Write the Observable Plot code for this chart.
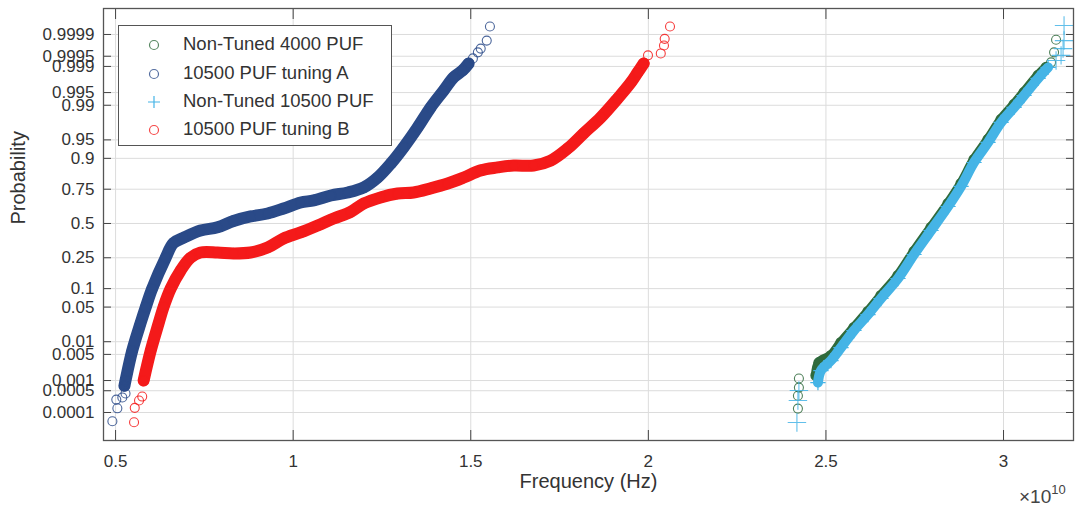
<!DOCTYPE html>
<html>
<head>
<meta charset="utf-8">
<script src="https://cdn.jsdelivr.net/npm/d3@7"></script>
<script src="https://cdn.jsdelivr.net/npm/@observablehq/plot@0.6"></script>
<style>
  html, body { margin: 0; padding: 0; background: #fff; }
  #wrap { position: relative; width: 1080px; height: 512px; font-family: "Liberation Sans", Arial, Helvetica, sans-serif; color: #333; }
  #legend { position: absolute; left: 118px; top: 25px; width: 272px; height: 119px; border: 1.3px solid #555; background: #fff; }
  .row { position: absolute; left: 0; height: 28px; line-height: 28px; font-size: 18.5px; white-space: nowrap; }
  .row svg { position: absolute; left: 27px; top: 7px; }
  .row span { position: absolute; left: 64px; }
  #exp { position: absolute; left: 1019px; top: 484px; font-size: 19px; color: #444; white-space: nowrap; }
  #exp sup { font-size: 13px; position: relative; top: -2px; }
</style>
</head>
<body>
<div id="wrap"></div>
<script>
// Frequencies in units of 1e10 Hz, probabilities
const seriesNames = ["Non-Tuned 4000 PUF", "10500 PUF tuning A", "Non-Tuned 10500 PUF", "10500 PUF tuning B"];
const seriesColors = ["#2f6a3c", "#2a4a88", "#45b4e6", "#f41a1a"];

const xTicks = [0.5, 1, 1.5, 2, 2.5, 3];
const probTicks = [0.0001, 0.0005, 0.001, 0.005, 0.01, 0.05, 0.1, 0.25, 0.5, 0.75, 0.9, 0.95, 0.99, 0.995, 0.999, 0.9995, 0.9999];
const probTickLabels = ["0.0001", "0.0005", "0.001", "0.005", "0.01", "0.05", "0.1", "0.25", "0.5", "0.75", "0.9", "0.95", "0.99", "0.995", "0.999", "0.9995", "0.9999"];

// Non-Tuned 4000 PUF
const nt4000BandF = [2.4718,2.4803,2.5141,2.5423,2.5789,2.6183,2.6549,2.7028,2.7479,2.7958,2.8437,2.8803,2.9169,2.9563,2.9930,3.0296,3.0577,3.0972,3.1197];
const nt4000BandP = [0.00139,0.0031,0.0047,0.0096,0.0203,0.0416,0.078,0.153,0.291,0.469,0.653,0.784,0.896,0.951,0.9797,0.9904,0.99505,0.99821,0.99893];
const nt4000TailF = [2.4239,2.4239,2.4211,2.4211,3.1338,3.1423,3.1479];
const nt4000TailP = [0.00114,0.00062,0.00035,0.000135,0.99924,0.99962,0.99985];

// 10500 PUF tuning A
const tuneABandF = [0.525,0.528,0.547,0.570,0.585,0.603,0.641,0.663,0.692,0.739,0.787,0.832,0.880,0.928,0.973,1.021,1.058,1.106,1.154,1.199,1.238,1.275,1.311,1.351,1.387,1.424,1.452,1.477,1.494];
const tuneABandP = [0.0007,0.001,0.0062,0.0245,0.05,0.1,0.25,0.35,0.39,0.445,0.47,0.52,0.555,0.578,0.616,0.66,0.675,0.709,0.729,0.761,0.817,0.881,0.933,0.971,0.9888,0.9956,0.998,0.9987,0.99918];
const tuneATailF = [0.491,0.505,0.502,0.519,0.528,1.506,1.520,1.528,1.545,1.554];
const tuneATailP = [0.00005,0.000138,0.000265,0.00031,0.00041,0.99942,0.99962,0.99971,0.99984,0.999947];

// Non-Tuned 10500 PUF
const nt10500BandF = [2.4775,2.4859,2.5141,2.5423,2.5789,2.6183,2.6549,2.7028,2.7479,2.7958,2.8437,2.8803,2.9169,2.9563,2.9930,3.0296,3.0577,3.0972,3.1254];
const nt10500BandP = [0.00087,0.0019,0.0035,0.0073,0.0176,0.0366,0.070,0.1395,0.271,0.445,0.631,0.767,0.885,0.9446,0.9766,0.9888,0.9941,0.99784,0.99893];
const nt10500TailF = [2.4183,2.4211,2.4239,3.1479,3.1620,3.1676,3.1704,3.1704];
const nt10500TailP = [0.0000448,0.000247,0.000506,0.99933,0.99953,0.99971,0.99984,0.999951];

// 10500 PUF tuning B
const tuneBBandF = [0.579,0.599,0.621,0.635,0.655,0.683,0.711,0.739,0.787,0.832,0.880,0.928,0.973,1.021,1.069,1.114,1.162,1.199,1.246,1.294,1.339,1.387,1.435,1.480,1.528,1.576,1.621,1.677,1.725,1.773,1.818,1.866,1.914,1.951,1.970,1.987];
const tuneBBandP = [0.001,0.0062,0.0245,0.05,0.1,0.177,0.25,0.284,0.284,0.278,0.284,0.318,0.384,0.43,0.484,0.539,0.59,0.653,0.696,0.722,0.729,0.755,0.784,0.817,0.852,0.865,0.873,0.873,0.892,0.930,0.962,0.9815,0.9931,0.99725,0.99852,0.99918];
const tuneBTailF = [0.552,0.554,0.566,0.575,1.999,2.035,2.044,2.046,2.061];
const tuneBTailP = [0.000046,0.000143,0.000247,0.00033,0.99953,0.99959,0.99977,0.99986,0.999947];

// inverse standard normal CDF (Acklam) used as the probability-scale transform
function probit(p) {
  const a = [-3.969683028665376e+01, 2.209460984245205e+02, -2.759285104469687e+02, 1.383577518672690e+02, -3.066479806614716e+01, 2.506628277459239e+00];
  const b = [-5.447609879822406e+01, 1.615858368580409e+02, -1.556989798598866e+02, 6.680131188771972e+01, -1.328068155288572e+01];
  const c = [-7.784894002430293e-03, -3.223964580411365e-01, -2.400758277161838e+00, -2.549732539343734e+00, 4.374664141464968e+00, 2.938163982698783e+00];
  const d = [7.784695709041462e-03, 3.224671290700398e-01, 2.445134137142996e+00, 3.754408661907416e+00];
  const plow = 0.02425;
  let q, r;
  if (p < plow) {
    q = Math.sqrt(-2 * Math.log(p));
    return (((((c[0]*q+c[1])*q+c[2])*q+c[3])*q+c[4])*q+c[5]) / ((((d[0]*q+d[1])*q+d[2])*q+d[3])*q+1);
  } else if (p <= 1 - plow) {
    q = p - 0.5; r = q*q;
    return (((((a[0]*r+a[1])*r+a[2])*r+a[3])*r+a[4])*r+a[5])*q / (((((b[0]*r+b[1])*r+b[2])*r+b[3])*r+b[4])*r+1);
  } else {
    q = Math.sqrt(-2 * Math.log(1 - p));
    return -(((((c[0]*q+c[1])*q+c[2])*q+c[3])*q+c[4])*q+c[5]) / ((((d[0]*q+d[1])*q+d[2])*q+d[3])*q+1);
  }
}
const rows = (fs, ps) => fs.map((f, i) => ({f, z: probit(ps[i])}));
const yTicksZ = probTicks.map(probit);
const fmtY = z => {
  let best = 0;
  yTicksZ.forEach((t, i) => { if (Math.abs(t - z) < Math.abs(yTicksZ[best] - z)) best = i; });
  return probTickLabels[best];
};

const series = [
  {band: rows(nt4000BandF, nt4000BandP), tail: rows(nt4000TailF, nt4000TailP), symbol: "circle", width: 10},
  {band: rows(tuneABandF, tuneABandP), tail: rows(tuneATailF, tuneATailP), symbol: "circle", width: 12},
  {band: rows(nt10500BandF, nt10500BandP), tail: rows(nt10500TailF, nt10500TailP), symbol: "plus", width: 10},
  {band: rows(tuneBBandF, tuneBBandP), tail: rows(tuneBTailF, tuneBTailP), symbol: "circle", width: 12}
];

const dataMarks = [];
series.forEach((s, i) => {
  const color = seriesColors[i];
  dataMarks.push(Plot.line(s.band, {x: "f", y: "z", stroke: color, strokeWidth: s.width, strokeLinecap: "round", strokeLinejoin: "round", curve: "catmull-rom"}));
  dataMarks.push(Plot.dot(s.band, {x: "f", y: "z", r: 5, symbol: s.symbol, stroke: color, fill: "none", strokeWidth: 1.2}));
  dataMarks.push(Plot.dot(s.tail, {x: "f", y: "z", r: s.symbol === "plus" ? 6 : 4.5, symbol: s.symbol, stroke: color, fill: "none", strokeWidth: 1.1, strokeOpacity: 0.85}));
});

const chart = Plot.plot({
  width: 1080,
  height: 512,
  marginLeft: 103,
  marginRight: 7,
  marginTop: 8,
  marginBottom: 72,
  x: {domain: [0.466, 3.197]},
  y: {domain: [-4.27, 4.23]},
  style: {fontFamily: "'Liberation Sans', Arial, Helvetica, sans-serif", background: "#fff", color: "#333"},
  marks: [
    Plot.gridY(yTicksZ, {stroke: "#dcdcdc", strokeOpacity: 1, strokeWidth: 1}),
    Plot.gridX(xTicks, {stroke: "#dcdcdc", strokeOpacity: 1, strokeWidth: 1}),
    Plot.axisY(yTicksZ, {anchor: "left", tickSize: 0, tickPadding: 9, tickFormat: fmtY, fontSize: 17, fill: "#333", label: null}),
    Plot.axisY(yTicksZ, {anchor: "left", tickSize: -8, tickFormat: () => "", stroke: "#444", label: null}),
    Plot.axisY(yTicksZ, {anchor: "right", tickSize: -8, tickFormat: () => "", stroke: "#444", label: null}),
    Plot.axisX(xTicks, {anchor: "bottom", tickSize: 0, tickPadding: 14, tickFormat: d => String(d), fontSize: 17, fill: "#333", label: null}),
    Plot.axisX(xTicks, {anchor: "bottom", tickSize: -10, tickFormat: () => "", stroke: "#444", label: null}),
    Plot.axisX(xTicks, {anchor: "top", tickSize: -10, tickFormat: () => "", stroke: "#444", label: null}),
    ...dataMarks,
    Plot.frame({stroke: "#555", strokeWidth: 1.3}),
    Plot.text(["Frequency (Hz)"], {frameAnchor: "bottom", dy: 47, fontSize: 20, fill: "#333"}),
    Plot.text(["Probability"], {frameAnchor: "left", dx: -85, rotate: -90, fontSize: 20, fill: "#333"})
  ]
});

const wrap = document.getElementById("wrap");
wrap.appendChild(chart);

// legend
const legend = document.createElement("div");
legend.id = "legend";
const rowTops = [4, 33, 61, 89];
seriesNames.forEach((name, i) => {
  const row = document.createElement("div");
  row.className = "row";
  row.style.top = rowTops[i] + "px";
  const sym = seriesColors[i];
  const icon = i === 2
    ? `<svg width="16" height="16"><path d="M8 2V14M2 8H14" stroke="${sym}" stroke-width="1.2"/></svg>`
    : `<svg width="16" height="16"><circle cx="8" cy="8" r="4.5" fill="none" stroke="${sym}" stroke-width="1.2" stroke-opacity="0.8"/></svg>`;
  row.innerHTML = icon + `<span>${name}</span>`;
  legend.appendChild(row);
});
wrap.appendChild(legend);

const exp = document.createElement("div");
exp.id = "exp";
exp.innerHTML = "×10<sup>10</sup>";
wrap.appendChild(exp);
</script>
</body>
</html>
